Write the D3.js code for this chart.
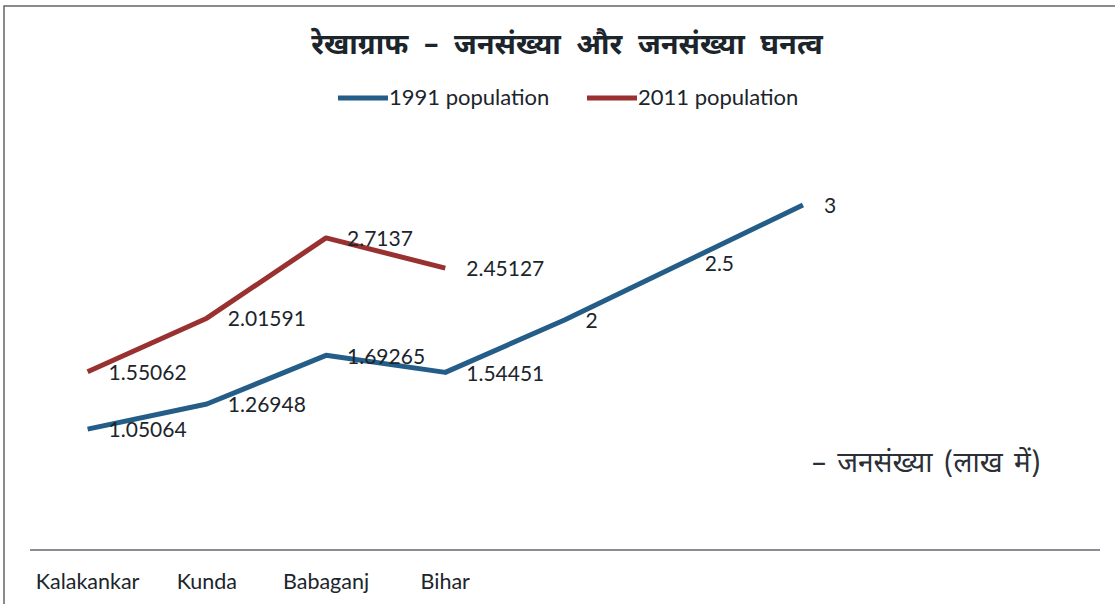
<!DOCTYPE html>
<html><head><meta charset="utf-8">
<script src="https://cdn.jsdelivr.net/npm/d3@7"></script>
<style>
html,body{margin:0;padding:0;background:#fff;}
svg{display:block;}
</style></head>
<body>
<script>
// ---- data ----
const categories = ["Kalakankar","Kunda","Babaganj","Bihar","c5","c6","c7","c8","c9"];
const tickLabels = ["Kalakankar","Kunda","Babaganj","Bihar","","","","",""];
const pop1991 = [1.05064, 1.26948, 1.69265, 1.54451, 2, 2.5, 3];
const pop2011 = [1.55062, 2.01591, 2.7137, 2.45127];
const seriesNames = ["1991 population","2011 population"];
const titleText = "रेखाग्राफ – जनसंख्या और जनसंख्या घनत्व";
const axisNote = "– जनसंख्या (लाख में)";

const W = 1115, H = 604;
const latin = "Lato, 'Open Sans', sans-serif";
const deva = "'Noto Sans Devanagari','Lohit Devanagari','Noto Sans',sans-serif";
const colors = ["#245d88", "#9a3131"];
const ink = "#1b252b";

const svg = d3.select("body").append("svg").attr("width", W).attr("height", H);
svg.append("rect").attr("x",4).attr("y",6).attr("width",1130).attr("height",620)
   .attr("fill","#fff").attr("stroke","#666").attr("stroke-width",1.5);

const x = d3.scaleBand().domain(categories).range([28, 1101]);
const y = d3.scaleLinear().domain([0, 3.5]).range([550, 147.5]);
const cx = c => x(c) + x.bandwidth()/2;

// axis
const xAxis = d3.axisBottom(x).tickSize(0).tickFormat((d,i)=>tickLabels[i]);
const ax = svg.append("g").attr("transform","translate(0,550)").call(xAxis);
ax.select(".domain").attr("stroke","#8a8e94").attr("stroke-width",2).attr("d","M30,0H1100");
ax.selectAll(".tick text").attr("font-family",latin).attr("font-size",21.5)
  .attr("fill",ink).attr("dy","0").attr("y",39);

// lines
const line = d3.line().x((d,i)=>cx(categories[i])).y(d=>y(d));
[pop1991, pop2011].forEach((s,k)=>{
  svg.append("path").datum(s).attr("d",line).attr("fill","none")
    .attr("stroke",colors[k]).attr("stroke-width",5).attr("stroke-linejoin","round");
});
// labels
[pop1991, pop2011].forEach((s,k)=>{
  svg.append("g").selectAll("text").data(s).join("text")
    .attr("x",(d,i)=>cx(categories[i])+21).attr("y",d=>y(d)+3)
    .attr("dominant-baseline","middle")
    .attr("font-family",latin).attr("font-size",21).attr("fill",ink)
    .text(d=>String(d));
});

// title
svg.append("text").attr("x",567).attr("y",46).attr("text-anchor","middle")
  .attr("dominant-baseline","middle").attr("font-family",deva).attr("font-weight","bold")
  .attr("font-size",29).attr("word-spacing",8).attr("fill",ink).text(titleText);

// legend
const lg = [{x:338},{x:587}];
seriesNames.forEach((n,k)=>{
  const g = svg.append("g");
  g.append("line").attr("x1",lg[k].x).attr("x2",lg[k].x+50).attr("y1",98).attr("y2",98)
    .attr("stroke",colors[k]).attr("stroke-width",5);
  g.append("text").attr("x",lg[k].x+51).attr("y",99).attr("dominant-baseline","middle")
    .attr("font-family",latin).attr("font-size",22).attr("fill",ink).text(n);
});

// note
svg.append("text").attr("x",812).attr("y",464).attr("dominant-baseline","middle")
  .attr("font-family",deva).attr("font-size",28).attr("word-spacing",4).attr("fill","#2a3036").text(axisNote);
</script>
</body></html>
